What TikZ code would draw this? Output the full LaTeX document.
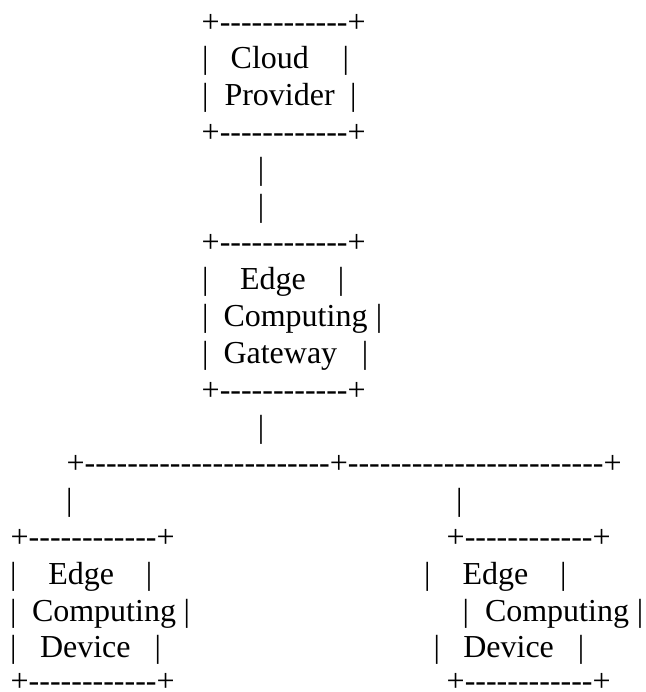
\documentclass[tikz,border=0pt]{standalone}
\usepackage{fontspec}
\newfontfamily\ascfont{Liberation Serif}
\tikzset{
  asc/.style={inner sep=0pt, outer sep=0pt, font=\ascfont\fontsize{32}{36}\selectfont, text=black},
  word/.style={asc, anchor=base west},
  bar/.style={asc, anchor=base},
}
\newcommand\boxline{+------------+}
\begin{document}
\begin{tikzpicture}[x=1pt,y=-1pt]
\useasboundingbox (0,0) rectangle (645,692);
% Cloud Provider
\node[word] (c1)  at (201.7,32.2)  {\boxline};
\node[bar]  (c2a) at (205.3,69.0)  {|};
\node[word] (c2b) at (230.7,69.0)  {Cloud};
\node[bar]  (c2c) at (345.7,69.0)  {|};
\node[bar]  (c3a) at (205.3,105.8) {|};
\node[word] (c3b) at (224.5,105.8) {Provider};
\node[bar]  (c3c) at (353.3,105.8) {|};
\node[word] (c4)  at (201.7,142.6) {\boxline};
% link
\node[bar]  (l5)  at (261,179.4)   {|};
\node[bar]  (l6)  at (261,216.2)   {|};
% Gateway
\node[word] (g1)  at (201.7,253.0) {\boxline};
\node[bar]  (g2a) at (205.3,289.8) {|};
\node[word] (g2b) at (240.0,289.8) {Edge};
\node[bar]  (g2c) at (341.0,289.8) {|};
\node[bar]  (g3a) at (205.3,326.6) {|};
\node[word] (g3b) at (223.5,326.6) {Computing};
\node[bar]  (g3c) at (379.0,326.6) {|};
\node[bar]  (g4a) at (205.3,363.4) {|};
\node[word] (g4b) at (223.5,363.4) {Gateway};
\node[bar]  (g4c) at (365.0,363.4) {|};
\node[word] (g5)  at (201.7,400.2) {\boxline};
\node[bar]  (l12) at (261,437.0)   {|};
% branch
\node[word] (br)  at (66.7,473.8)  {+-----------------------+------------------------+};
\node[bar]  (l14a) at (69.3,510.6) {|};
\node[bar]  (l14b) at (459.3,510.6) {|};
% left device
\node[word] (d1)  at (10.7,547.4)  {\boxline};
\node[bar]  (d2a) at (13.3,584.2)  {|};
\node[word] (d2b) at (48.3,584.2)  {Edge};
\node[bar]  (d2c) at (149.0,584.2) {|};
\node[bar]  (d3a) at (13.3,621.0)  {|};
\node[word] (d3b) at (32.0,621.0)  {Computing};
\node[bar]  (d3c) at (186.7,621.0) {|};
\node[bar]  (d4a) at (13.3,657.8)  {|};
\node[word] (d4b) at (40.0,657.8)  {Device};
\node[bar]  (d4c) at (157.7,657.8) {|};
\node[word] (d5)  at (10.7,691.0)  {\boxline};
% right device
\node[word] (e1)  at (446.7,547.4) {\boxline};
\node[bar]  (e2a) at (427.3,584.2) {|};
\node[word] (e2b) at (462.5,584.2) {Edge};
\node[bar]  (e2c) at (563.3,584.2) {|};
\node[bar]  (e3a) at (465.7,621.0) {|};
\node[word] (e3b) at (485.0,621.0) {Computing};
\node[bar]  (e3c) at (640.0,621.0) {|};
\node[bar]  (e4a) at (436.7,657.8) {|};
\node[word] (e4b) at (463.3,657.8) {Device};
\node[bar]  (e4c) at (581.0,657.8) {|};
\node[word] (e5)  at (446.7,691.0) {\boxline};
\end{tikzpicture}
\end{document}
